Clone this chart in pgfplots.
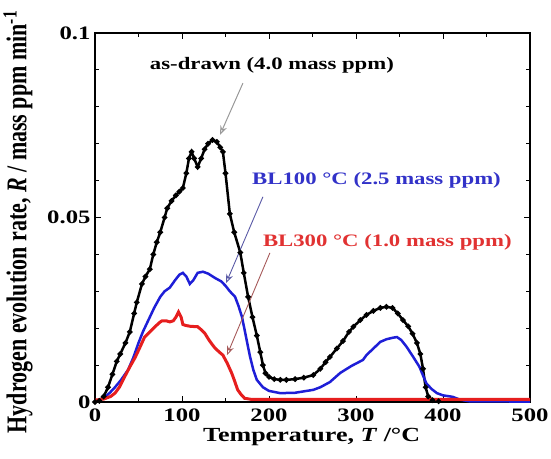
\documentclass[border=0pt]{standalone}
\usepackage{fontspec}
\setmainfont{Liberation Serif}
\usepackage{graphicx}
\usepackage{pgfplots}
\pgfplotsset{compat=1.18}
\usetikzlibrary{arrows.meta}
\definecolor{cblue}{RGB}{30,30,215}
\definecolor{cred}{RGB}{230,30,30}
\definecolor{tblue}{RGB}{50,50,200}
\definecolor{tred}{RGB}{225,50,50}
\newcommand{\hs}[1]{\scalebox{1.3}[1]{#1}}
\begin{document}
\begin{tikzpicture}
\begin{axis}[name=ax, scale only axis, width=435pt, height=369pt,
 xmin=0, xmax=500, ymin=0, ymax=0.1,
 xtick={0,100,200,300,400,500},
 xticklabels={\hs{0},\hs{100},\hs{200},\hs{300},\hs{400},\hs{500}},
 minor xtick={50,150,250,350,450},
 ytick={0,0.05,0.1}, yticklabels={\hs{0},\hs{0.05},\hs{0.1}},
 minor ytick={0.01,0.02,0.03,0.04,0.06,0.07,0.08,0.09},
 tick align=inside, major tick length=6pt, minor tick length=4pt,
 every tick/.style={black, line width=1pt},
 axis line style={line width=1.4pt},
 tick label style={font=\fontsize{19}{22}\selectfont\bfseries},
 xticklabel style={anchor=center, yshift=-13pt},
 yticklabel style={anchor=east, xshift=-1pt},
 xlabel={\hs{Temperature, \textit{T} /°C}},
 xlabel style={font=\fontsize{20}{24}\selectfont\bfseries, at={(axis description cs:0.498,-0.095)}, anchor=center},
 ylabel={\scalebox{1}[1.3]{Hydrogen evolution rate, \textit{R} / mass ppm min\textsuperscript{-1}}},
 ylabel style={font=\fontsize{22}{26}\selectfont\bfseries, at={(axis description cs:-0.177,0.488)}, anchor=center},
 clip=false,
]
% as-drawn
\addplot[black, line width=2.5pt, mark=*, mark size=1.3pt, mark options={solid}] coordinates {
(0,0) (5,0.0003) (10,0.0015) (15,0.004) (20,0.0075) (25,0.011) (29,0.013) (35,0.016) (40,0.019)
(45,0.024) (48,0.027) (54,0.032) (58,0.034) (63,0.036) (67,0.040) (71,0.0433) (75,0.046)
(80,0.050) (83,0.0525) (88,0.0545) (93,0.056) (97,0.057) (101,0.058) (105,0.062) (108,0.066)
(111,0.0678) (114,0.066) (118,0.0637) (122,0.066) (126,0.0685) (130,0.070) (135,0.071)
(140,0.0705) (144,0.069) (147,0.0678) (150,0.062) (155,0.051) (160,0.046) (167,0.0405)
(171,0.035) (176,0.0285) (181,0.023) (186,0.018) (190,0.0135) (193,0.010) (196,0.0078)
(200,0.0068) (206,0.0062) (213,0.006) (220,0.006) (230,0.0062) (240,0.0066) (251,0.0073)
(259,0.009) (265,0.0108) (270,0.0122) (278,0.0145) (285,0.0165) (292,0.019) (297,0.0204)
(305,0.0222) (312,0.0236) (320,0.0247) (328,0.0255) (335,0.0258) (342,0.0255) (348,0.024)
(354,0.0222) (360,0.0205) (365,0.0185) (370,0.016) (374,0.013) (377,0.009) (380,0.004)
(383,0.0015) (388,0.0005) (395,0.0002)
};
% BL100
\addplot[cblue, line width=2.5pt, no marks] coordinates {
(0,0.0003) (10,0.001) (17,0.0025) (23,0.004) (30,0.006) (38,0.0087) (44,0.012) (50,0.016)
(55,0.019) (61,0.022) (68,0.0255) (75,0.0285) (80,0.030) (86,0.031) (92,0.033) (97,0.0345)
(101,0.035) (105,0.034) (109,0.032) (113,0.033) (118,0.035) (124,0.0353) (130,0.0348)
(138,0.0336) (145,0.0327) (150,0.0315) (155,0.030) (161,0.0285) (165,0.026) (169,0.023)
(172,0.0195) (175,0.016) (178,0.0125) (182,0.0087) (186,0.006) (193,0.004) (200,0.003)
(213,0.0024) (230,0.0025) (251,0.0033) (259,0.004) (270,0.0054) (282,0.0079) (295,0.0098)
(308,0.0114) (312,0.0127) (320,0.0145) (328,0.0163) (335,0.017) (342,0.0174) (347,0.0176)
(352,0.0168) (358,0.015) (365,0.0125) (373,0.0095) (377,0.0072) (381,0.005) (387,0.0035)
(393,0.0024) (400,0.0018) (411,0.0014) (420,0.0006) (430,0.0002) (500,0.0001)
};
% BL300
\addplot[cred, line width=3pt, no marks] coordinates {
(0,0.0005) (10,0.0008) (18,0.0015) (23,0.0024) (28,0.004) (34,0.0068) (40,0.0095) (46,0.012)
(52,0.015) (57,0.0176) (63,0.019) (69,0.0204) (74,0.0215) (77,0.022) (82,0.022) (86,0.0217)
(90,0.022) (93,0.023) (96,0.0244) (99,0.023) (101,0.021) (105,0.0207) (110,0.0205)
(118,0.0204) (122,0.0196) (126,0.0187) (131,0.0168) (135,0.0155) (138,0.0146) (143,0.0135)
(147,0.0127) (152,0.0105) (157,0.0079) (160,0.006) (164,0.0033) (168,0.002) (172,0.001)
(180,0.0007) (250,0.0007) (350,0.0007) (450,0.0007) (500,0.0007)
};
\node[font=\fontsize{17.5}{20}\selectfont\bfseries, black] at (axis cs:203.4,0.0913) {\hs{as-drawn (4.0 mass ppm)}};
\node[font=\fontsize{17.5}{20}\selectfont\bfseries, tblue] at (axis cs:323.6,0.0602) {\hs{BL100 °C (2.5 mass ppm)}};
\node[font=\fontsize{17.5}{20}\selectfont\bfseries, tred] at (axis cs:336,0.0434) {\hs{BL300 °C (1.0 mass ppm)}};
\draw[gray!80, line width=1pt, -{Stealth[length=9pt,width=7pt,open]}] (axis cs:170,0.0864) -- (axis cs:143.7,0.0724);
\draw[gray!70!blue, line width=0.9pt, -{Stealth[length=9pt,width=7pt,open]}] (axis cs:193,0.0556) -- (axis cs:150.6,0.0322);
\draw[gray!70!red, line width=0.9pt, -{Stealth[length=9pt,width=7pt,open]}] (axis cs:201,0.0404) -- (axis cs:151.7,0.0127);
\end{axis}
\pgfresetboundingbox
\path[use as bounding box] ([xshift=-95pt,yshift=-57pt]ax.south west) rectangle ([xshift=21pt,yshift=33pt]ax.north east);
\end{tikzpicture}
\end{document}
